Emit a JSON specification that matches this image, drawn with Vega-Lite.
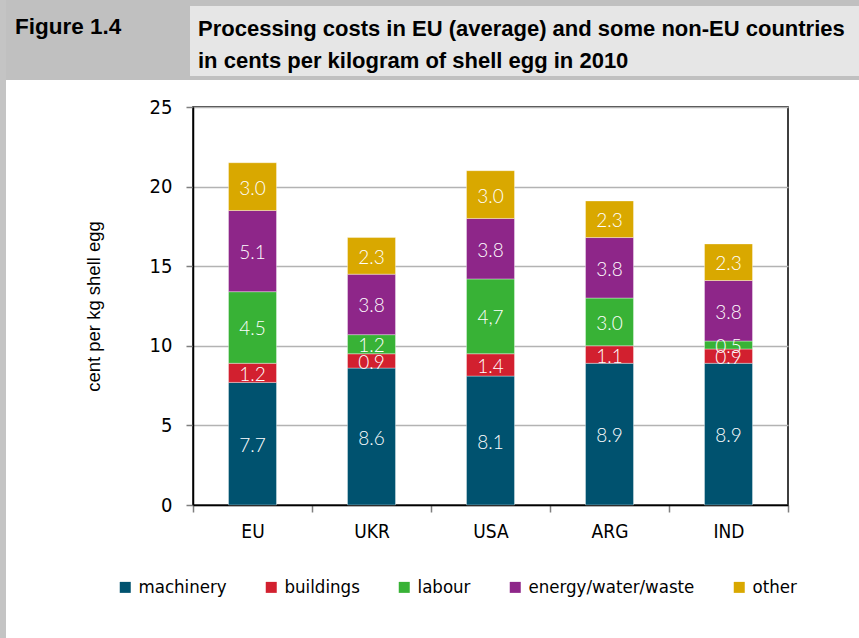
{
  "$schema": "https://vega.github.io/schema/vega-lite/v6.json",
  "background": "white",
  "padding": 0,
  "spacing": 0,
  "config": {
    "concat": {"spacing": 0},
    "font": "DejaVu Sans Condensed"
  },
  "hconcat": [
    {
      "width": 6,
      "height": 638,
      "view": {"fill": "#c4c4c4", "stroke": null},
      "data": {"values": []},
      "mark": "text"
    },
    {
      "spacing": 0,
      "vconcat": [
        {
          "spacing": 0,
          "hconcat": [
            {
              "width": 184,
              "height": 80,
              "view": {"fill": "#c0c0c0", "stroke": null},
              "data": {"values": []},
              "mark": "text",
              "title": {"text": "Figure 1.4", "anchor": "start", "dx": 9, "offset": -56, "baseline": "alphabetic", "font": "Liberation Sans", "fontSize": 22.5, "fontWeight": "bold", "color": "#000000"}
            },
            {
              "spacing": 0,
              "vconcat": [
                {
                  "width": 669,
                  "height": 6,
                  "view": {"fill": "#c0c0c0", "stroke": null},
                  "data": {"values": []},
                  "mark": "text"
                },
                {
                  "width": 669,
                  "height": 70,
                  "view": {"fill": "#e6e6e6", "stroke": null},
                  "data": {"values": []},
                  "mark": "text",
                  "title": {"text": ["Processing costs in EU (average) and some non-EU countries", "in cents per kilogram of shell egg in 2010"], "anchor": "start", "dx": 8, "offset": -84, "baseline": "alphabetic", "lineHeight": 32, "font": "Liberation Sans", "fontSize": 22, "fontWeight": "bold", "color": "#000000"}
                },
                {
                  "width": 669,
                  "height": 4,
                  "view": {"fill": "#c0c0c0", "stroke": null},
                  "data": {"values": []},
                  "mark": "text"
                }
              ]
            }
          ]
        },
        {
          "spacing": 76,
          "hconcat": [
            {
              "width": 1,
              "height": 1,
              "view": {"stroke": null},
              "data": {"values": []},
              "mark": "text"
            },
            {
              "width": 595,
              "height": 398,
              "title": {"text": " ", "fontSize": 10, "offset": 6},
              "view": {"stroke": "#000000", "strokeWidth": 1.5},
              "data": {
                "values": [
                  {"country": "EU", "category": "machinery", "value": 7.7, "label": "7.7"},
                  {"country": "EU", "category": "buildings", "value": 1.2, "label": "1.2"},
                  {"country": "EU", "category": "labour", "value": 4.5, "label": "4.5"},
                  {"country": "EU", "category": "energy/water/waste", "value": 5.1, "label": "5.1"},
                  {"country": "EU", "category": "other", "value": 3.0, "label": "3.0"},
                  {"country": "UKR", "category": "machinery", "value": 8.6, "label": "8.6"},
                  {"country": "UKR", "category": "buildings", "value": 0.9, "label": "0.9"},
                  {"country": "UKR", "category": "labour", "value": 1.2, "label": "1.2"},
                  {"country": "UKR", "category": "energy/water/waste", "value": 3.8, "label": "3.8"},
                  {"country": "UKR", "category": "other", "value": 2.3, "label": "2.3"},
                  {"country": "USA", "category": "machinery", "value": 8.1, "label": "8.1"},
                  {"country": "USA", "category": "buildings", "value": 1.4, "label": "1.4"},
                  {"country": "USA", "category": "labour", "value": 4.7, "label": "4,7"},
                  {"country": "USA", "category": "energy/water/waste", "value": 3.8, "label": "3.8"},
                  {"country": "USA", "category": "other", "value": 3.0, "label": "3.0"},
                  {"country": "ARG", "category": "machinery", "value": 8.9, "label": "8.9"},
                  {"country": "ARG", "category": "buildings", "value": 1.1, "label": "1.1"},
                  {"country": "ARG", "category": "labour", "value": 3.0, "label": "3.0"},
                  {"country": "ARG", "category": "energy/water/waste", "value": 3.8, "label": "3.8"},
                  {"country": "ARG", "category": "other", "value": 2.3, "label": "2.3"},
                  {"country": "IND", "category": "machinery", "value": 8.9, "label": "8.9"},
                  {"country": "IND", "category": "buildings", "value": 0.9, "label": "0.9"},
                  {"country": "IND", "category": "labour", "value": 0.5, "label": "0.5"},
                  {"country": "IND", "category": "energy/water/waste", "value": 3.8, "label": "3.8"},
                  {"country": "IND", "category": "other", "value": 2.3, "label": "2.3"}
                ]
              },
              "transform": [
                {"stack": "value", "groupby": ["country"], "as": ["v0", "v1"]}
              ],
              "encoding": {
                "x": {
                  "field": "country",
                  "type": "nominal",
                  "sort": ["EU", "UKR", "USA", "ARG", "IND"],
                  "scale": {"paddingInner": 0, "paddingOuter": 0},
                  "axis": {
                    "title": null,
                    "labelAngle": 0,
                    "tickBand": "extent",
                    "domainColor": "#000000",
                    "domainWidth": 1.5,
                    "tickColor": "#7f7f7f",
                    "tickWidth": 1.5,
                    "tickSize": 7,
                    "labelPadding": 10,
                    "labelFont": "DejaVu Sans Condensed",
                    "labelFontSize": 19,
                    "labelColor": "#000000"
                  }
                }
              },
              "layer": [
                {
                  "mark": {"type": "bar", "width": 48, "stroke": "#ffffff", "strokeWidth": 0.6, "strokeOpacity": 0.6},
                  "encoding": {
                    "y": {
                      "field": "v0",
                      "type": "quantitative",
                      "scale": {"domain": [0, 25], "nice": false},
                      "axis": {
                        "title": "cent per kg shell egg",
                        "titleFont": "Liberation Sans",
                        "titleFontSize": 18.5,
                        "titleFontWeight": "normal",
                        "titleColor": "#000000",
                        "titlePadding": 46,
                        "values": [0, 5, 10, 15, 20, 25],
                        "labelFont": "DejaVu Sans Condensed",
                        "labelFontSize": 20,
                        "labelColor": "#000000",
                        "labelPadding": 14,
                        "tickSize": 7,
                        "tickColor": "#7f7f7f",
                        "tickWidth": 1.5,
                        "domainColor": "#000000",
                        "domainWidth": 1.5,
                        "gridColor": "#b3b3b3",
                        "gridWidth": 1.5
                      }
                    },
                    "y2": {"field": "v1"},
                    "color": {
                      "field": "category",
                      "type": "nominal",
                      "scale": {
                        "domain": ["machinery", "buildings", "labour", "energy/water/waste", "other"],
                        "range": ["#00526f", "#d2202f", "#38b236", "#8e2689", "#d9a800"]
                      },
                      "legend": {
                        "title": null,
                        "orient": "none",
                        "legendX": 116,
                        "legendY": 578,
                        "direction": "horizontal",
                        "columns": 5,
                        "symbolType": "square",
                        "symbolSize": 121,
                        "symbolStrokeWidth": 0,
                        "symbolOpacity": 1,
                        "labelFont": "DejaVu Sans Condensed",
                        "labelFontSize": 18.5,
                        "labelColor": "#000000",
                        "labelOffset": 4,
                        "columnPadding": 35,
                        "labelLimit": 400
                      }
                    }
                  }
                },
                {
                  "transform": [
                    {"fold": ["v0", "v1"], "as": ["edge", "ev"]},
                    {"aggregate": [{"op": "mean", "field": "ev", "as": "mid"}], "groupby": ["country", "category", "label"]}
                  ],
                  "mark": {"type": "text", "color": "#ffffff", "font": "Lato", "fontWeight": 300, "fontSize": 19, "baseline": "middle", "dy": 2},
                  "encoding": {
                    "y": {"field": "mid", "type": "quantitative"},
                    "text": {"field": "label", "type": "nominal"}
                  }
                }
              ]
            }
          ]
        }
      ]
    }
  ]
}
